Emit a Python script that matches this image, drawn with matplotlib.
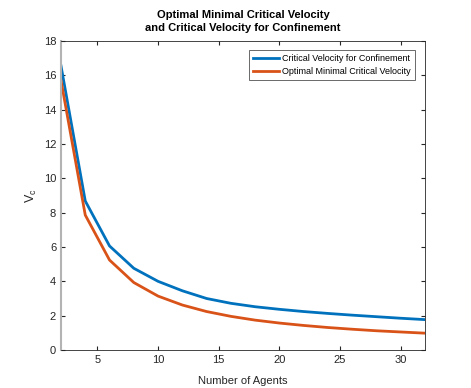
import matplotlib
matplotlib.use("Agg")
import matplotlib.pyplot as plt

plt.rcParams['font.family'] = ['Liberation Sans', 'DejaVu Sans']

# number of agents
agents = [2, 4, 6, 8, 10, 12, 14, 16, 18, 20, 22, 24, 26, 28, 30, 32]
# critical velocity for confinement
v_conf = [16.55, 8.68, 6.06, 4.76, 4.0, 3.45, 3.0, 2.72, 2.52, 2.37, 2.24, 2.13, 2.03, 1.94, 1.85, 1.77]
# optimal minimal critical velocity
v_opt = [15.7, 7.86, 5.24, 3.93, 3.14, 2.62, 2.24, 1.96, 1.74, 1.57, 1.43, 1.31, 1.21, 1.12, 1.05, 0.98]

blue = (0.0, 0.447, 0.741)
orange = (0.85, 0.325, 0.098)

fig = plt.figure(figsize=(4.71, 3.88), dpi=100)
ax = fig.add_axes([61/471, 1 - 350/388, 364/471, 309/388])

ax.plot(agents, v_conf, color=blue, lw=2, label='Critical Velocity for Confinement')
ax.plot(agents, v_opt, color=orange, lw=2, label='Optimal Minimal Critical Velocity')

ax.set_xlim(2, 32)
ax.set_ylim(0, 18)
ax.set_xticks([5, 10, 15, 20, 25, 30])
ax.set_yticks(range(0, 19, 2))
ax.tick_params(direction='in', top=True, right=True, labelsize=8, colors='0.15', length=3)
for s in ax.spines.values():
    s.set_color('0.15')
    s.set_linewidth(0.6)
ax.spines['left'].set_color('0.7')
ax.spines['left'].set_linewidth(1.5)

ax.set_xlabel('Number of Agents', fontsize=8, color='0.15', labelpad=8)
ax.set_ylabel('V$_\\mathregular{c}$', fontsize=9, color='0.15', labelpad=3)
ax.set_title('Optimal Minimal Critical Velocity\nand Critical Velocity for Confinement',
             fontsize=8, fontweight='bold', linespacing=1.45, pad=7)

leg = ax.legend(loc='upper right', fontsize=6.5, frameon=True, fancybox=False,
                edgecolor='0.15', handlelength=2.9, borderpad=0.45, labelspacing=0.4,
                handletextpad=0.35, bbox_to_anchor=(0.985, 0.985))
leg.get_frame().set_linewidth(0.6)

fig.savefig('out.png', dpi=100)
